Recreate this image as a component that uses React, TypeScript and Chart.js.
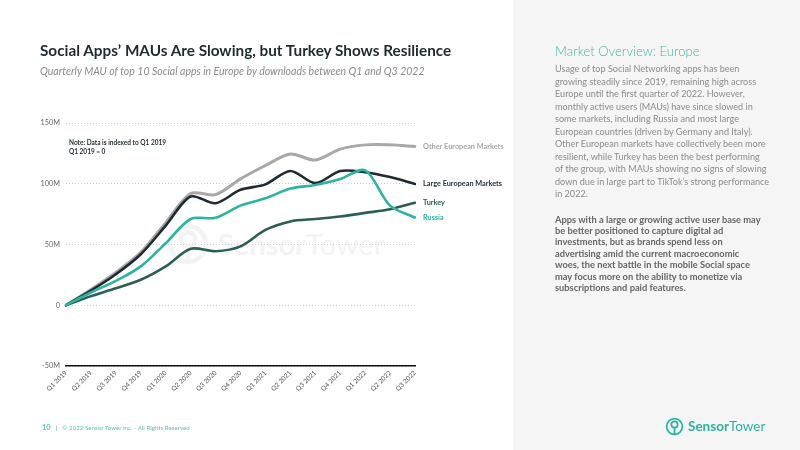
import React, { useEffect, useRef } from 'react';
import { Chart, registerables } from 'chart.js';

Chart.register(...registerables);

// Quarterly MAU growth, indexed to Q1 2019 (millions)
const quarters = [
  'Q1 2019', 'Q2 2019', 'Q3 2019', 'Q4 2019',
  'Q1 2020', 'Q2 2020', 'Q3 2020', 'Q4 2020',
  'Q1 2021', 'Q2 2021', 'Q3 2021', 'Q4 2021',
  'Q1 2022', 'Q2 2022', 'Q3 2022',
];
const otherEurope = [0, 13, 27, 43.5, 68, 92, 91, 104, 115, 124.5, 119.5, 128.5, 132, 132, 130.7];
const largeEurope = [0, 12, 25.5, 42, 65.5, 89.5, 84, 95, 99.5, 110.5, 100.5, 110.5, 109.5, 105.5, 99.8];
const turkey = [0, 7.5, 14, 21, 32, 46.5, 44.5, 48.5, 62, 69, 71, 73, 76, 79, 84.4];
const russia = [0, 10.5, 20, 32, 51, 71, 72, 82, 88, 96, 99, 104, 111, 82, 72.2];

const seriesNames = ['Other European Markets', 'Large European Markets', 'Turkey', 'Russia'];
const seriesColors = ['#a8a8a8', '#1f2b31', '#2c5e55', '#2bb4a0'];
const yTickValues = [-50, 0, 50, 100, 150];

const FONT = 'Lato, "Noto Sans", sans-serif';

// Writes each series name just past the end of its line
const endLabels = {
  id: 'endLabels',
  afterDatasetsDraw(chart: any) {
    const ctx = chart.ctx;
    chart.data.datasets.forEach((ds: any, i: number) => {
      const meta = chart.getDatasetMeta(i);
      const pt = meta.data[meta.data.length - 1];
      if (!pt) return;
      ctx.save();
      ctx.font = `bold 7.3px ${FONT}`;
      ctx.fillStyle = ds.borderColor;
      ctx.textBaseline = 'middle';
      ctx.textAlign = 'left';
      ctx.fillText(ds.label, pt.x + 8, pt.y);
      ctx.restore();
    });
  },
};

function LogoIcon({ size, color, stroke }: { size: number; color: string; stroke: number }) {
  return (
    <svg width={size} height={size} viewBox="0 0 24 24" style={{ display: 'block' }}>
      <circle cx="12" cy="12" r={11 - stroke / 2} fill="none" stroke={color} strokeWidth={stroke} />
      <circle cx="12" cy="9.5" r="4" fill="none" stroke={color} strokeWidth={stroke} />
      <line x1="12" y1="13.5" x2="12" y2="23" stroke={color} strokeWidth={stroke} />
    </svg>
  );
}

const bodyLines = [
  'Usage of top Social Networking apps has been',
  'growing steadily since 2019, remaining high across',
  'Europe until the first quarter of 2022. However,',
  'monthly active users (MAUs) have since slowed in',
  'some markets, including Russia and most large',
  'European countries (driven by Germany and Italy).',
  'Other European markets have collectively been more',
  'resilient, while Turkey has been the best performing',
  'of the group, with MAUs showing no signs of slowing',
  'down due in large part to TikTok\u2019s strong performance',
  'in 2022.',
];
const boldLines = [
  'Apps with a large or growing active user base may',
  'be better positioned to capture digital ad',
  'investments, but as brands spend less on',
  'advertising amid the current macroeconomic',
  'woes, the next battle in the mobile Social space',
  'may focus more on the ability to monetize via',
  'subscriptions and paid features.',
];

export default function App() {
  const canvasRef = useRef<HTMLCanvasElement>(null);

  useEffect(() => {
    document.body.style.margin = '0';
    const seriesData = [otherEurope, largeEurope, turkey, russia];
    const drawOrder = [3, 2, 1, 0];
    const chart = new Chart(canvasRef.current as HTMLCanvasElement, {
      type: 'line',
      data: {
        labels: quarters,
        datasets: seriesNames.map((name, i) => ({
          label: name,
          data: seriesData[i],
          borderColor: seriesColors[i],
          backgroundColor: seriesColors[i],
          borderWidth: i === 0 ? 3 : 2.6,
          pointRadius: 0,
          tension: 0.3,
          order: drawOrder[i],
          borderCapStyle: 'round' as const,
        })),
      },
      options: {
        animation: false,
        responsive: false,
        devicePixelRatio: 1,
        layout: { padding: { top: 123, right: 97, bottom: 0, left: 0 } },
        plugins: {
          legend: { display: false },
          tooltip: { enabled: false },
        },
        scales: {
          x: {
            grid: { display: false, drawTicks: false },
            border: { display: true, color: '#111', width: 1.6 },
            ticks: {
              autoSkip: false,
              minRotation: 45,
              maxRotation: 45,
              padding: 3,
              color: '#555',
              font: { family: FONT, size: 6.5 },
            },
            afterFit: (s: any) => {
              s.height = 84;
            },
          },
          y: {
            min: -50,
            max: 150,
            afterBuildTicks: (s: any) => {
              s.ticks = yTickValues.map((v) => ({ value: v }));
            },
            grid: { color: '#cfcfcf', lineWidth: 1, drawTicks: false },
            border: { display: false, dash: [1, 2] },
            ticks: {
              padding: 6,
              color: '#666',
              font: { family: FONT, size: 7.3 },
              callback: (v: any) => (v === 0 ? '0' : `${v}M`),
            },
            afterFit: (s: any) => {
              s.width = 66;
            },
          },
        },
      },
      plugins: [endLabels],
    });
    return () => chart.destroy();
  }, []);

  return (
    <div
      style={{
        position: 'fixed',
        left: 0,
        top: 0,
        width: 800,
        height: 450,
        background: '#ffffff',
        fontFamily: FONT,
        overflow: 'hidden',
      }}
    >
      {/* right-hand commentary panel */}
      <div style={{ position: 'absolute', left: 513, top: 0, width: 287, height: 450, background: '#f5f5f5' }} />

      {/* faint brand mark behind the plot */}
      <div style={{ position: 'absolute', left: 166, top: 222, display: 'flex', alignItems: 'center', gap: 8 }}>
        <LogoIcon size={44} color="#f3f3f3" stroke={2.6} />
        <div style={{ fontSize: 29, color: '#f3f3f3', lineHeight: '44px', whiteSpace: 'nowrap' }}>
          <span style={{ fontWeight: 700 }}>Sensor</span>
          <span style={{ fontWeight: 400 }}>Tower</span>
        </div>
      </div>

      <canvas
        ref={canvasRef}
        width={512}
        height={450}
        style={{ position: 'absolute', left: 0, top: 0, width: 512, height: 450 }}
      />

      {/* headline */}
      <div
        style={{
          position: 'absolute',
          left: 40,
          top: 40,
          fontSize: 15.3,
          fontWeight: 700,
          color: '#1f2b31',
          whiteSpace: 'nowrap',
          lineHeight: '20px',
        }}
      >
        Social Apps{'\u2019'} MAUs Are Slowing, but Turkey Shows Resilience
      </div>
      <div
        style={{
          position: 'absolute',
          left: 40,
          top: 64,
          fontSize: 10.5,
          fontStyle: 'italic',
          color: '#8a8a8a',
          whiteSpace: 'nowrap',
          lineHeight: '14px',
        }}
      >
        Quarterly MAU of top 10 Social apps in Europe by downloads between Q1 and Q3 2022
      </div>

      {/* indexing note */}
      <div
        style={{
          position: 'absolute',
          left: 69,
          top: 139,
          fontSize: 6.5,
          fontWeight: 700,
          color: '#1f2b31',
          lineHeight: '8.5px',
          whiteSpace: 'nowrap',
        }}
      >
        <div>Note: Data is indexed to Q1 2019</div>
        <div>Q1 2019 = 0</div>
      </div>

      {/* commentary */}
      <div
        style={{
          position: 'absolute',
          left: 555,
          top: 41,
          fontSize: 13.1,
          fontWeight: 300,
          color: '#3bb9a5',
          whiteSpace: 'nowrap',
          lineHeight: '20px',
        }}
      >
        Market Overview: Europe
      </div>
      <div
        style={{
          position: 'absolute',
          left: 555,
          top: 63,
          fontSize: 9.1,
          color: '#8c8c8c',
          lineHeight: '12.5px',
          whiteSpace: 'nowrap',
        }}
      >
        {bodyLines.map((l, i) => (
          <div key={i}>{l}</div>
        ))}
      </div>
      <div
        style={{
          position: 'absolute',
          left: 555,
          top: 213.5,
          fontSize: 9.3,
          fontWeight: 700,
          color: '#666666',
          lineHeight: '11.4px',
          whiteSpace: 'nowrap',
        }}
      >
        {boldLines.map((l, i) => (
          <div key={i}>{l}</div>
        ))}
      </div>

      {/* footer */}
      <div
        style={{
          position: 'absolute',
          left: 42,
          top: 423,
          fontSize: 6.2,
          color: '#62c2b2',
          whiteSpace: 'nowrap',
          lineHeight: '10px',
          display: 'flex',
          alignItems: 'center',
        }}
      >
        <span style={{ fontWeight: 700, fontSize: 7.5 }}>10</span>
        <span style={{ margin: '0 5px', fontWeight: 700 }}>|</span>
        <span>{'\u00a9'} 2022 Sensor Tower Inc. - All Rights Reserved</span>
      </div>

      {/* brand logo */}
      <div style={{ position: 'absolute', left: 665, top: 417, display: 'flex', alignItems: 'center', gap: 4 }}>
        <LogoIcon size={19} color="#2bb39f" stroke={2.2} />
        <div style={{ fontSize: 13.5, color: '#2bb39f', lineHeight: '19px', whiteSpace: 'nowrap' }}>
          <span style={{ fontWeight: 700 }}>Sensor</span>
          <span style={{ fontWeight: 400 }}>Tower</span>
        </div>
      </div>
    </div>
  );
}
